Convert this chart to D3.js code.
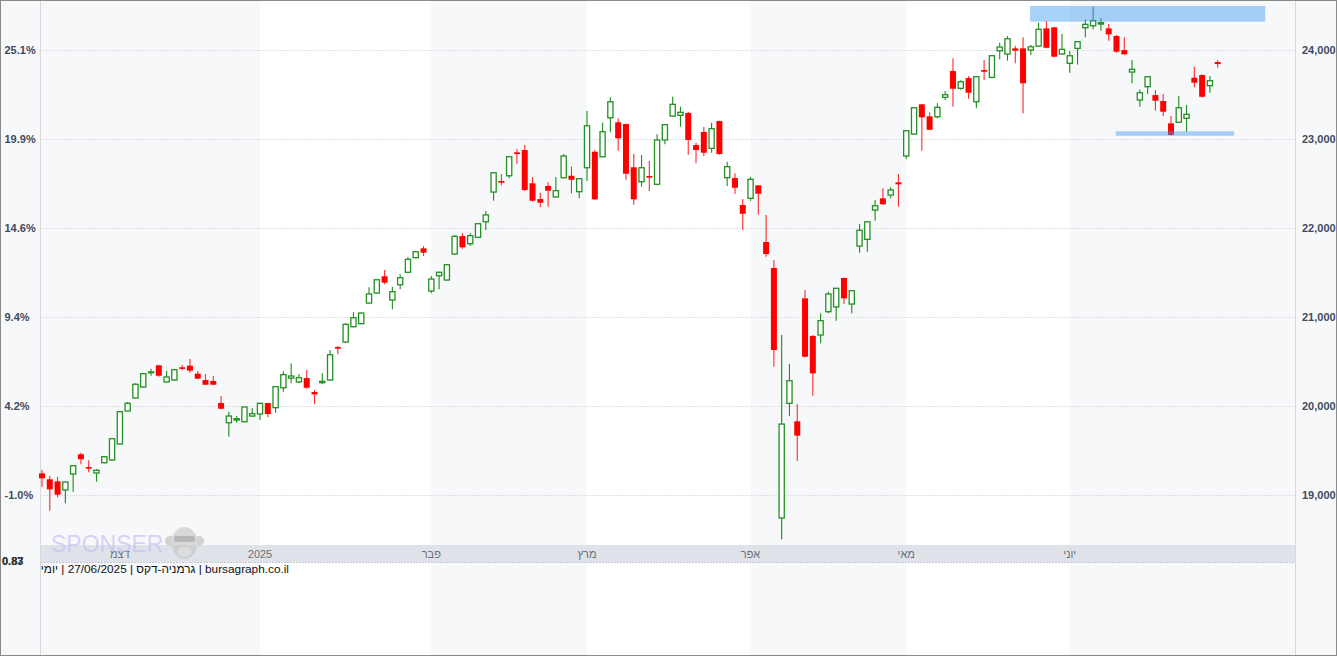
<!DOCTYPE html>
<html><head><meta charset="utf-8">
<script src="https://cdn.jsdelivr.net/npm/d3@7"></script>
<style>html,body{margin:0;padding:0;background:#fff;}svg{display:block;}</style>
</head><body>
<svg id="c" width="1337" height="656"></svg>
<script>
// ---------- DATA ----------
const open = [19238,19171,19148,19051,19230,19452,19309,19242,19357,19388,19568,19939,20085,20208,20370,20452,20265,20287,20430,20448,20358,20287,20276,20028,19807,19837,19818,19882,19905,20028,19976,20200,20309,20265,20309,20152,20257,20287,20658,20714,20886,20920,21152,21265,21453,21186,21358,21498,21662,21767,21287,21459,21411,21703,21905,21819,21891,22066,22400,22524,22583,22846,22872,22498,22321,22468,22344,22561,22583,22404,22673,22853,22797,23235,23184,23164,22678,22516,22580,22487,22985,23254,23262,23288,22928,23075,22891,23198,22561,22557,22254,22329,22475,21838,21546,18736,20025,19823,21205,20782,20793,21055,21108,21434,21141,21793,21868,22198,22329,22366,22509,22805,23052,23386,23251,23246,23465,23760,23566,23681,23415,23771,23689,23988,23951,24015,24015,23996,24041,24240,24251,23951,23847,24015,24247,24269,24288,24240,24154,23996,23749,23434,23584,23490,23423,23172,23184,23229,23685,23715,23595,23861];
const high = [19275,19208,19197,19145,19330,19470,19384,19287,19430,19635,19935,20040,20250,20365,20414,20459,20388,20410,20456,20523,20385,20354,20332,20107,19931,19882,19990,19969,20030,20030,20218,20385,20475,20351,20399,20175,20362,20624,20669,20924,21048,21045,21329,21420,21523,21336,21475,21670,21735,21793,21456,21505,21590,21913,21936,21936,22050,22187,22625,22602,22805,22883,22928,22569,22392,22509,22569,22827,22685,22555,23311,22872,23179,23465,23229,23170,22827,22816,22749,23049,23160,23471,23359,23303,22954,23131,23179,23200,22741,22610,22321,22569,22480,22142,21636,20793,20467,20014,21299,20793,21037,21280,21320,21440,21295,22040,22070,22310,22442,22453,22602,23095,23355,23390,23296,23397,23535,23903,23657,23703,23700,23884,23940,24078,24154,24043,24139,24052,24303,24322,24255,24176,23985,24095,24341,24483,24353,24288,24165,24139,23884,23554,23700,23547,23502,23254,23479,23378,23809,23720,23704,23884];
const low = [19088,18818,18969,18901,19031,19339,19250,19144,19350,19380,19565,19935,20080,20200,20335,20324,20260,20280,20396,20369,20298,20230,20230,19960,19650,19807,19812,19875,19837,19868,19919,20155,20250,20250,20189,20017,20239,20280,20579,20710,20880,20915,21148,21260,21363,21082,21306,21486,21655,21681,21262,21306,21405,21695,21763,21793,21885,21973,22302,22475,22554,22718,22411,22291,22228,22235,22340,22555,22385,22329,22524,22310,22790,23071,22864,22538,22257,22460,22411,22475,22936,23250,23134,22819,22723,22805,22842,22820,22468,22378,21973,22302,22145,21673,20436,18496,19882,19377,20540,20111,20699,21037,20954,21141,21037,21718,21729,22078,22258,22329,22235,22768,23045,22864,23095,23229,23434,23359,23550,23449,23341,23659,23680,23892,23876,23847,23285,23940,24035,24015,23915,23945,23741,23835,24139,24229,24213,24101,23966,23945,23622,23359,23502,23314,23254,23035,23180,23078,23577,23465,23516,23797];
const close = [19182,19058,18998,19140,19324,19396,19294,19272,19425,19627,19931,20025,20239,20358,20378,20335,20321,20403,20418,20392,20302,20234,20234,19964,19882,19852,19984,19908,20025,19905,20212,20347,20332,20313,20200,20126,20272,20571,20639,20913,20987,21040,21254,21414,21381,21280,21437,21644,21729,21718,21422,21498,21583,21902,21779,21909,22044,22142,22617,22505,22797,22831,22423,22302,22280,22415,22415,22805,22538,22550,23145,22318,23078,23415,23004,22606,22318,22673,22566,22985,23157,23386,23296,22985,22872,22842,23112,22827,22685,22448,22156,22543,22381,21703,20624,19792,20279,19661,20549,20362,20954,21254,21318,21205,21291,21970,22066,22246,22262,22423,22487,23089,23348,23240,23100,23352,23494,23561,23640,23516,23696,23752,23932,24030,24123,23988,23622,24033,24229,24022,23921,24004,23932,24090,24285,24326,24303,24173,23977,23948,23779,23516,23696,23426,23303,23041,23348,23273,23629,23471,23651,23839];

// month labels and the candle index where each month starts
const monthLabels = ["דצמ","2025","פבר","מרץ","אפר","מאי","יוני"];
const monthStartIdx = [10,28,50,70,91,111,132];
// alternating shaded periods (candle index ranges drawn white)
const whiteStart = [28,70,111];
const whiteEnd = [50,91,132];

// price axis ticks and the matching percentage labels
const priceTicks = [19000,20000,21000,22000,23000,24000];
const pctLabels = ["-1.0%","4.2%","9.4%","14.6%","19.9%","25.1%"];

// highlighted zones (candle index range, price range)
const zoneStart = [126.9,137.9];
const zoneEnd = [157.1,153.1];
const zoneTop = [24491,23083];
const zoneBottom = [24315,23033];

const footerText = "גרמניה-דקס | 27/06/2025 | יומי | bursagraph.co.il";
const cornerLabels = ["0.87","0.83"];

// ---------- CHART ----------
const W = 1337, H = 656;
const L = 40, R = 1295;
const FONT = "Arial, 'Liberation Sans', sans-serif";
const svg = d3.select("#c");
const x = d3.scaleLinear().domain([0, open.length - 1]).range([42, 1217.7]);
const y = d3.scaleLinear().domain([19000, 24000]).range([494.5, 49.7]);

svg.append("rect").attr("x",0).attr("y",0).attr("width",W).attr("height",H).attr("fill","#f7f8fa");

// white month bands
svg.append("g").selectAll("rect").data(whiteStart).join("rect")
  .attr("x", d => x(d))
  .attr("y", 1)
  .attr("width", (d,i) => x(whiteEnd[i]) - x(d))
  .attr("height", H - 2)
  .attr("fill", "#ffffff");

// grid lines
svg.append("g").selectAll("line").data(priceTicks).join("line")
  .attr("x1", L).attr("x2", R)
  .attr("y1", d => Math.round(y(d)) + 0.5).attr("y2", d => Math.round(y(d)) + 0.5)
  .attr("stroke", "#dde0e4").attr("stroke-width", 1).attr("stroke-dasharray", "2,1");

// axis separators
svg.append("line").attr("x1",L+0.5).attr("x2",L+0.5).attr("y1",1).attr("y2",H-1).attr("stroke","#d6d8dc");
svg.append("line").attr("x1",R+0.5).attr("x2",R+0.5).attr("y1",1).attr("y2",H-1).attr("stroke","#d6d8dc");

// candles
const idx = d3.range(open.length);
const up = i => close[i] >= open[i];
const gC = svg.append("g");
gC.selectAll("line.wick").data(idx).join("line")
  .attr("class","wick")
  .attr("x1", i => x(i)).attr("x2", i => x(i))
  .attr("y1", i => y(high[i])).attr("y2", i => y(low[i]))
  .attr("stroke", i => up(i) ? "#1c8c1c" : "#ff2a2a")
  .attr("stroke-width", 1.1);
gC.selectAll("rect.body").data(idx).join("rect")
  .attr("class","body")
  .attr("x", i => up(i) ? x(i) - 2.6 : x(i) - 3)
  .attr("width", i => up(i) ? 5.2 : 6)
  .attr("y", i => y(Math.max(open[i], close[i])))
  .attr("height", i => Math.max(up(i) ? 0.8 : 1.6, Math.abs(y(open[i]) - y(close[i]))))
  .attr("fill", i => up(i) ? "#ffffff" : "#ff0000")
  .attr("stroke", i => up(i) ? "#229022" : "none")
  .attr("stroke-width", 1.3);

// highlighted zones
svg.append("g").selectAll("rect").data(zoneStart).join("rect")
  .attr("x", d => x(d))
  .attr("width", (d,i) => x(zoneEnd[i]) - x(d))
  .attr("y", (d,i) => y(zoneTop[i]))
  .attr("height", (d,i) => y(zoneBottom[i]) - y(zoneTop[i]))
  .attr("fill", "#3d9bf0").attr("fill-opacity", 0.45);

// x-axis band
svg.append("rect").attr("x", L+1).attr("y", 545).attr("width", R - L - 1).attr("height", 17).attr("fill", "#dfe3e9");
svg.append("line").attr("x1", L+1).attr("x2", R).attr("y1", 562.5).attr("y2", 562.5)
  .attr("stroke", "#c3c8d0").attr("stroke-dasharray", "2,1");
svg.append("g").selectAll("text").data(monthLabels).join("text")
  .attr("x", (d,i) => x(monthStartIdx[i]))
  .attr("y", 557.5)
  .attr("text-anchor", "middle")
  .attr("font-family", FONT)
  .attr("font-size", 11)
  .attr("fill", "#6b6f76")
  .text(d => d);

// watermark
const wm = svg.append("g").attr("opacity", 0.6);
wm.append("text").attr("x", 51).attr("y", 552).attr("font-family", FONT)
  .attr("font-size", 23).attr("fill", "#c4b8f4").text("SPONSER");
wm.append("circle").attr("cx", 170).attr("cy", 541).attr("r", 5).attr("fill", "#b9b9b9");
wm.append("circle").attr("cx", 199).attr("cy", 541).attr("r", 5).attr("fill", "#b9b9b9");
wm.append("ellipse").attr("cx", 184.5).attr("cy", 543).attr("rx", 13).attr("ry", 16).attr("fill", "#c4c4c4");
wm.append("rect").attr("x", 174).attr("y", 536).attr("width", 21).attr("height", 6).attr("rx", 2).attr("fill", "#8d8d8d");
wm.append("ellipse").attr("cx", 184.5).attr("cy", 552).attr("rx", 7).attr("ry", 5).attr("fill", "#d8d8d8");

// footer
svg.append("text").attr("x", 289).attr("y", 573).attr("text-anchor", "end")
  .attr("direction", "ltr")
  .attr("font-family", FONT)
  .attr("font-size", 11.8).attr("fill", "#111").text(footerText);

// left axis (percent) labels
svg.append("g").selectAll("text").data(priceTicks).join("text")
  .attr("x", 4.5).attr("y", d => y(d) + 4)
  .attr("font-family", FONT)
  .attr("font-size", 11).attr("font-weight", "bold").attr("fill", "#3e4b5f")
  .text((d,i) => pctLabels[i]);

// right axis (price) labels
svg.append("g").selectAll("text").data(priceTicks).join("text")
  .attr("x", 1302).attr("y", d => y(d) + 4)
  .attr("font-family", FONT)
  .attr("font-size", 11).attr("font-weight", "bold").attr("fill", "#3e4b5f")
  .text(d => d3.format(",")(d));

// corner labels (overlapping, as in the source)
svg.append("g").selectAll("text").data(cornerLabels).join("text")
  .attr("x", 2).attr("y", 565)
  .attr("font-family", FONT)
  .attr("font-size", 11).attr("font-weight", "bold").attr("fill", "#333")
  .text(d => d);

// outer border
svg.append("rect").attr("x", 0.5).attr("y", 0.5).attr("width", W - 1).attr("height", H - 1)
  .attr("fill", "none").attr("stroke", "#8a8a8a").attr("stroke-width", 1);
</script>
</body></html>
